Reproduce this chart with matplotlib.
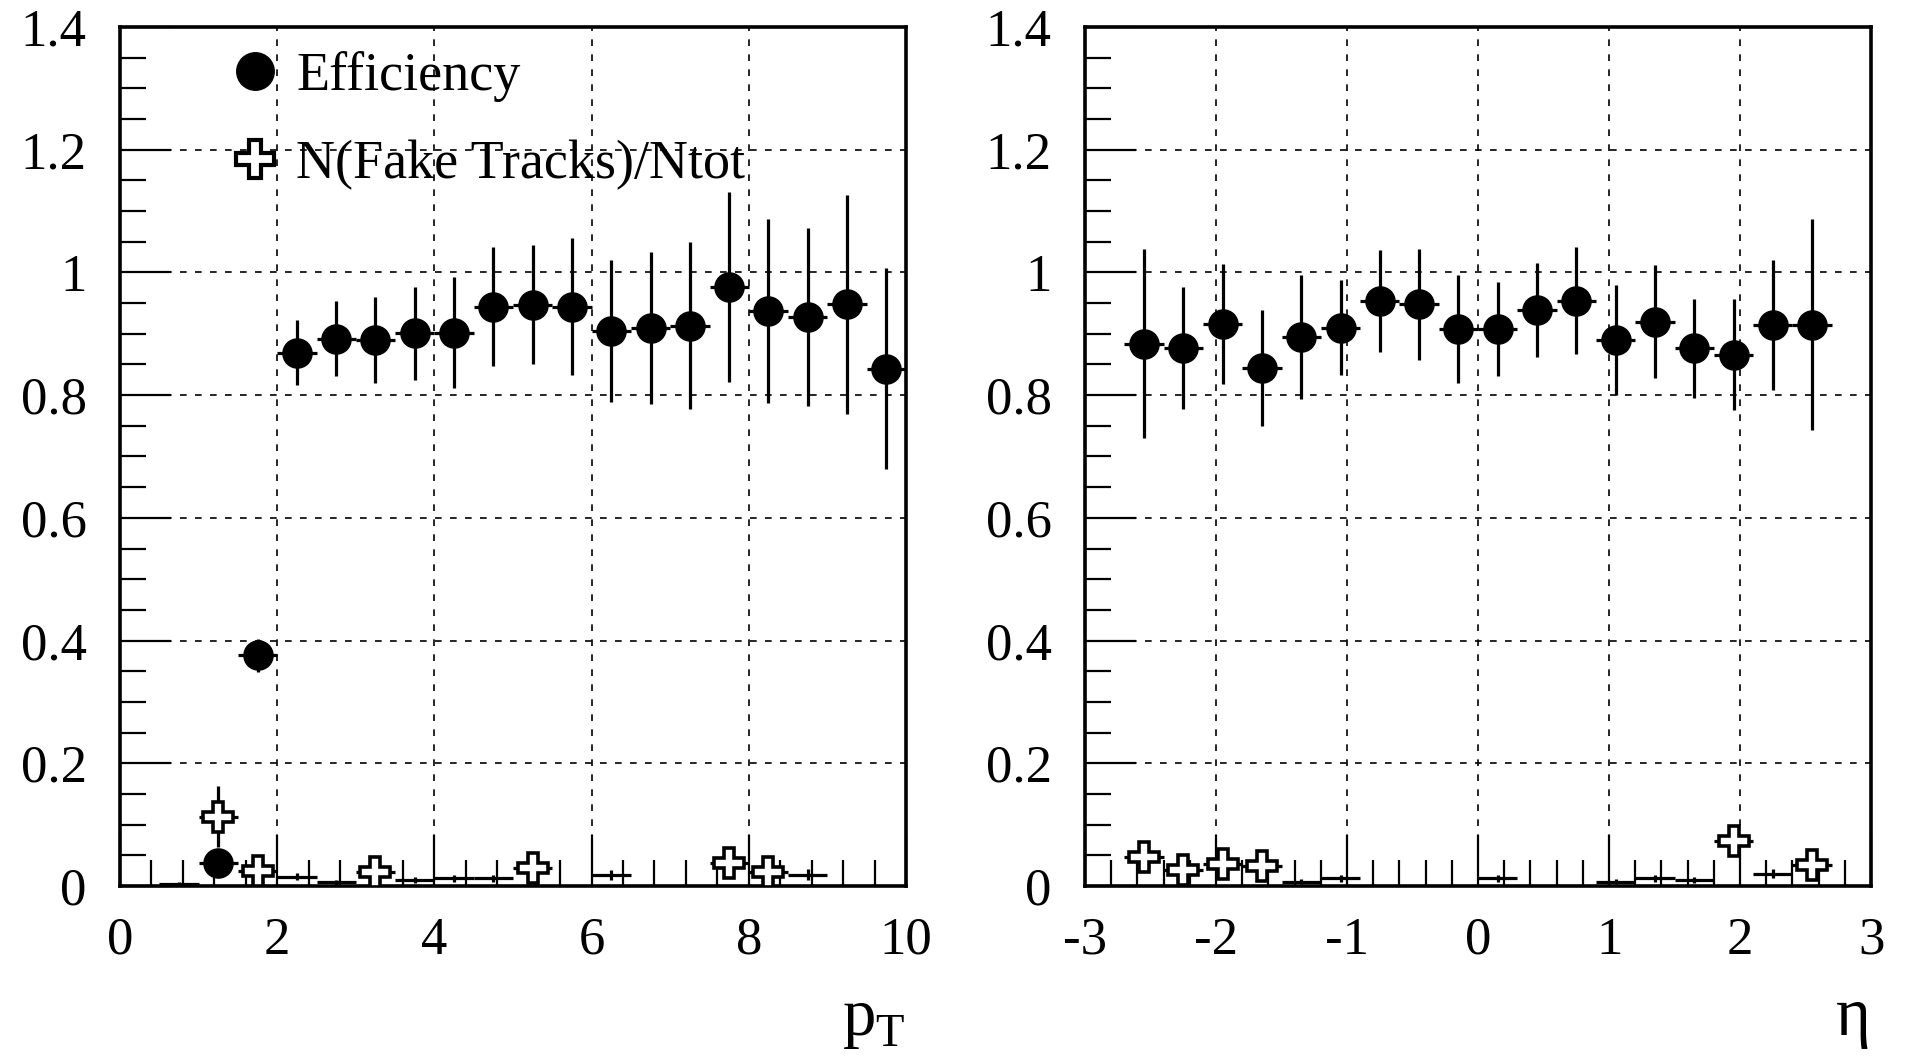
import matplotlib
matplotlib.use("Agg")
import matplotlib.pyplot as plt
from matplotlib.lines import Line2D
from matplotlib.ticker import MultipleLocator
import numpy as np

plt.rcParams['font.family'] = ['Liberation Serif', 'DejaVu Serif']
plt.rcParams['mathtext.fontset'] = 'custom'
plt.rcParams['mathtext.rm'] = 'Liberation Serif'

nan = np.nan

# p_T panel: 20 bins of 0.5 from 0 to 10
pt_centers = np.arange(0.25, 10.0, 0.5)
pt_eff = [nan, nan, 0.038, 0.376, 0.869, 0.892, 0.890, 0.901, 0.902, 0.944,
          0.947, 0.944, 0.905, 0.909, 0.913, 0.976, 0.937, 0.928, 0.948, 0.843]
pt_eff_err = [nan, nan, 0.010, 0.027, 0.053, 0.061, 0.070, 0.076, 0.090, 0.097,
              0.097, 0.112, 0.116, 0.124, 0.136, 0.155, 0.150, 0.145, 0.178, 0.164]
pt_fake = [nan, 0.003, 0.113, 0.025, 0.015, 0.006, 0.023, 0.010, 0.0125, 0.0125,
           0.030, nan, 0.018, nan, nan, 0.038, 0.023, 0.018, nan, nan]
pt_fake_err = [nan, 0.003, 0.050, 0.012, 0.006, 0.004, 0.012, 0.005, 0.006, 0.006,
               0.015, nan, 0.008, nan, nan, 0.018, 0.012, 0.009, nan, nan]

# eta panel: 20 bins of 0.3 from -3 to 3
eta_centers = np.arange(-2.85, 3.0, 0.3)
eta_eff = [nan, 0.884, 0.877, 0.916, 0.844, 0.895, 0.910, 0.954, 0.948, 0.908,
           0.908, 0.939, 0.954, 0.890, 0.920, 0.876, 0.866, 0.915, 0.915, nan]
eta_eff_err = [nan, 0.154, 0.099, 0.098, 0.094, 0.101, 0.078, 0.083, 0.090, 0.088,
               0.077, 0.077, 0.087, 0.090, 0.092, 0.081, 0.091, 0.106, 0.172, nan]
eta_fake = [nan, 0.047, 0.026, 0.036, 0.033, 0.007, 0.0125, nan, nan, nan,
            0.0125, nan, nan, 0.007, 0.0125, 0.010, 0.074, 0.020, 0.034, nan]
eta_fake_err = [nan, 0.012, 0.010, 0.012, 0.012, 0.004, 0.006, nan, nan, nan,
                0.006, nan, nan, 0.004, 0.006, 0.005, 0.018, 0.007, 0.012, nan]

legend_labels = ['Efficiency', 'N(Fake Tracks)/Ntot']

FS = 38
MIN_MARK = 0.022  # markers too close to the frame edge are not drawn


def draw_panel(ax, x, width, eff, eff_err, fake, fake_err, xlim, xmajor, xminor, xlabel):
    x = np.asarray(x)
    for y, e in ((eff, eff_err), (fake, fake_err)):
        ax.errorbar(x, y, xerr=width / 2, yerr=e, fmt='none', ecolor='k',
                    elinewidth=2.3, capsize=0, zorder=3)
    eff = np.asarray(eff)
    fake = np.asarray(fake)
    m = eff >= MIN_MARK
    ax.plot(x[m], eff[m], 'o', ms=21, color='k', zorder=4)
    m = fake >= MIN_MARK
    ax.plot(x[m], fake[m], 'P', ms=21, mfc='white', mec='k', mew=2.6, zorder=4)

    ax.set_xlim(*xlim)
    ax.set_ylim(0, 1.4)
    ax.xaxis.set_major_locator(MultipleLocator(xmajor))
    ax.xaxis.set_minor_locator(MultipleLocator(xminor))
    ax.yaxis.set_major_locator(MultipleLocator(0.2))
    ax.yaxis.set_minor_locator(MultipleLocator(0.05))
    ax.yaxis.set_major_formatter(lambda v, p: f'{v:g}')
    ax.xaxis.set_major_formatter(lambda v, p: f'{v:g}')
    ax.tick_params(which='both', direction='in', top=False, right=False,
                   width=1.6, labelsize=FS)
    ax.tick_params(which='major', length=37)
    ax.tick_params(which='minor', length=19)
    ax.tick_params(axis='x', pad=22)
    ax.tick_params(axis='y', pad=24)
    ax.grid(True, which='major', color='k', lw=1.2, ls=(0, (4, 5)))
    ax.set_axisbelow(True)
    for s in ax.spines.values():
        s.set_linewidth(2.6)
    ax.set_xlabel(xlabel, fontsize=48, ha='right', va='baseline')
    ax.xaxis.set_label_coords(1.0, -0.174)


fig = plt.figure(figsize=(19.05, 10.59), dpi=100)
ax1 = fig.add_axes([0.063, 0.1634, 0.4126, 0.8111])
ax2 = fig.add_axes([0.5696, 0.1634, 0.4126, 0.8111])

draw_panel(ax1, pt_centers, 0.5, pt_eff, pt_eff_err, pt_fake, pt_fake_err,
           (0, 10), 2, 0.4, r'$\mathrm{p}_{\mathrm{T}}$')
draw_panel(ax2, eta_centers, 0.3, eta_eff, eta_eff_err, eta_fake, eta_fake_err,
           (-3, 3), 1, 0.2, 'η')

handles = [Line2D([], [], ls='none', marker='o', ms=27, color='k'),
           Line2D([], [], ls='none', marker='P', ms=27, mfc='white', mec='k', mew=3)]
ax1.legend(handles, legend_labels, loc='upper left', bbox_to_anchor=(0.103, 1.016),
           frameon=False, fontsize=39, handlelength=0.6, handletextpad=0.46,
           labelspacing=0.69, borderaxespad=0.3)

fig.savefig('out.png', dpi=100)
